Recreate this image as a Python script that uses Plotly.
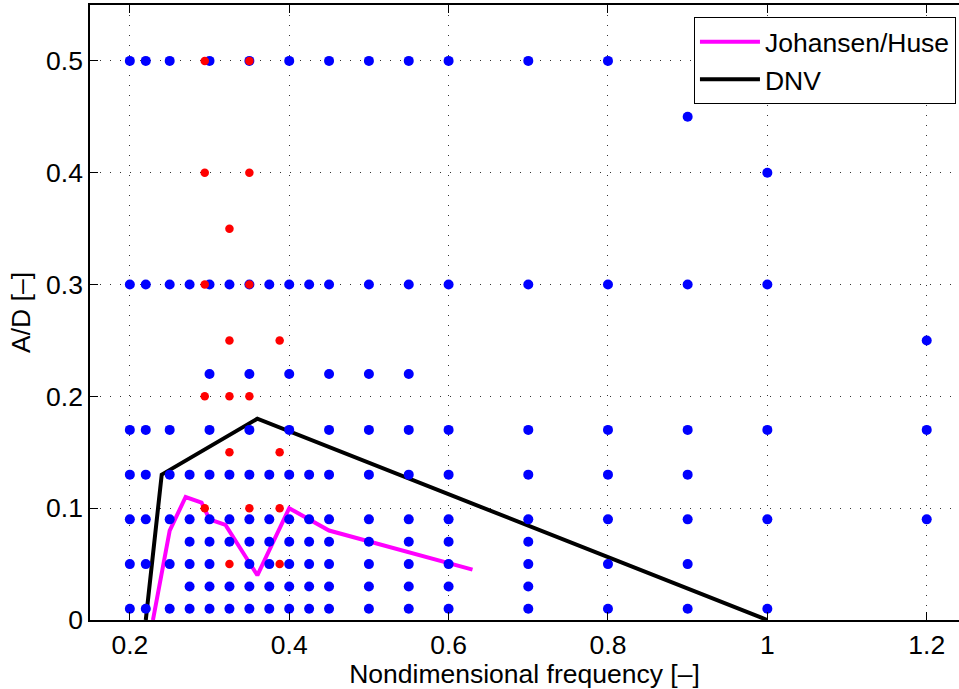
import plotly.graph_objects as go

# ---------------- data ----------------
# blue test points: one list of x (nondimensional frequency) per A/D level
row_050 = [0.2, 0.22, 0.25, 0.3, 0.35, 0.4, 0.45, 0.5, 0.55, 0.6, 0.7, 0.8]
row_045 = [0.9]
row_040 = [1.0]
row_030 = [0.2, 0.22, 0.25, 0.275, 0.3, 0.325, 0.35, 0.375, 0.4, 0.425, 0.45,
           0.5, 0.55, 0.6, 0.7, 0.8, 0.9, 1.0]
row_025 = [1.2]
row_022 = [0.3, 0.35, 0.4, 0.45, 0.5, 0.55]
row_017 = [0.2, 0.22, 0.25, 0.3, 0.35, 0.4, 0.45, 0.5, 0.55, 0.6, 0.7, 0.8,
           0.9, 1.0, 1.2]
row_013 = [0.2, 0.22, 0.25, 0.275, 0.3, 0.325, 0.35, 0.375, 0.4, 0.425, 0.45,
           0.5, 0.55, 0.6, 0.7, 0.8, 0.9]
row_009 = [0.2, 0.22, 0.25, 0.275, 0.3, 0.325, 0.35, 0.375, 0.4, 0.425, 0.45,
           0.5, 0.55, 0.6, 0.7, 0.8, 0.9, 1.0, 1.2]
row_007 = [0.275, 0.3, 0.325, 0.35, 0.375, 0.4, 0.425, 0.45, 0.5, 0.55, 0.6, 0.7]
row_005 = [0.2, 0.22, 0.25, 0.275, 0.3, 0.35, 0.375, 0.4, 0.425, 0.45, 0.5,
           0.55, 0.6, 0.7, 0.8, 0.9]
row_003 = [0.275, 0.3, 0.325, 0.35, 0.375, 0.4, 0.425, 0.45, 0.5, 0.55, 0.6, 0.7]
row_001 = [0.2, 0.22, 0.25, 0.275, 0.3, 0.325, 0.35, 0.375, 0.4, 0.425, 0.45,
           0.5, 0.55, 0.6, 0.7, 0.8, 0.9, 1.0]

blue_levels = [0.5, 0.45, 0.4, 0.3, 0.25, 0.22, 0.17, 0.13, 0.09, 0.07, 0.05, 0.03, 0.01]
blue_rows = [row_050, row_045, row_040, row_030, row_025, row_022, row_017,
             row_013, row_009, row_007, row_005, row_003, row_001]

# red test points
red_x = [0.294, 0.35, 0.294, 0.35, 0.325, 0.294, 0.35, 0.325, 0.388, 0.294,
         0.325, 0.35, 0.325, 0.388, 0.294, 0.35, 0.388, 0.325, 0.388]
red_y = [0.5, 0.5, 0.4, 0.4, 0.35, 0.3, 0.3, 0.25, 0.25, 0.2,
         0.2, 0.2, 0.15, 0.15, 0.1, 0.1, 0.1, 0.05, 0.05]

# Johansen/Huse curve
jh_x = [0.229, 0.25, 0.27, 0.29, 0.30, 0.32, 0.36, 0.40, 0.45, 0.63]
jh_y = [0.0, 0.08, 0.11, 0.105, 0.09, 0.085, 0.04, 0.10, 0.08, 0.045]

# DNV curve
dnv_x = [0.22, 0.24, 0.36, 1.0]
dnv_y = [0.0, 0.13, 0.18, 0.0]

x_ticks = [0.2, 0.4, 0.6, 0.8, 1.0, 1.2]
x_ticktext = ["0.2", "0.4", "0.6", "0.8", "1", "1.2"]
y_ticks = [0, 0.1, 0.2, 0.3, 0.4, 0.5]
y_ticktext = ["0", "0.1", "0.2", "0.3", "0.4", "0.5"]

# ---------------- figure ----------------
blue_x, blue_y = [], []
for lev, xs in zip(blue_levels, blue_rows):
    blue_x += xs
    blue_y += [lev] * len(xs)

FONT = "Liberation Sans, Arial, Helvetica, sans-serif"
FS = 26.5

fig = go.Figure()
fig.add_trace(go.Scatter(x=jh_x, y=jh_y, mode="lines", name="Johansen/Huse",
                         line=dict(color="#ff00ff", width=4), cliponaxis=True))
fig.add_trace(go.Scatter(x=dnv_x, y=dnv_y, mode="lines", name="DNV",
                         line=dict(color="#000000", width=4), cliponaxis=True))
fig.add_trace(go.Scatter(x=blue_x, y=blue_y, mode="markers", showlegend=False,
                         marker=dict(color="#0000ff", size=10, line=dict(width=0))))
fig.add_trace(go.Scatter(x=red_x, y=red_y, mode="markers", showlegend=False,
                         marker=dict(color="#ff0000", size=8.5, line=dict(width=0))))

grid = dict(showgrid=True, gridcolor="#333333", gridwidth=1, griddash="1px,9px",
            zeroline=False, showline=True, linecolor="#000000", linewidth=1.5,
            ticks="inside", ticklen=8, tickwidth=1, tickcolor="#000000",
            tickfont=dict(size=FS, color="#000000", family=FONT))

fig.update_xaxes(range=[0.15, 1.2405], tickvals=x_ticks, ticktext=x_ticktext,
                 mirror="ticks",
                 title=dict(text="Nondimensional frequency [–]",
                            font=dict(size=FS, color="#000000", family=FONT),
                            standoff=2),
                 **grid)
fig.update_yaxes(range=[0, 0.55], tickvals=y_ticks, ticktext=y_ticktext,
                 mirror=False,
                 title=dict(text="A/D [–]",
                            font=dict(size=FS, color="#000000", family=FONT),
                            standoff=8),
                 **grid)

fig.update_layout(
    width=959, height=689,
    margin=dict(l=90, r=0, t=5, b=69, pad=0),
    plot_bgcolor="#ffffff", paper_bgcolor="#ffffff",
    font=dict(family=FONT, size=FS, color="#000000"),
    showlegend=True,
    legend=dict(x=0.9965, y=0.9805, xanchor="right", yanchor="top",
                bgcolor="#ffffff", bordercolor="#000000", borderwidth=1,
                font=dict(size=FS, color="#000000", family=FONT),
                itemwidth=60, tracegroupgap=0),
)

fig.write_html("out.html")
